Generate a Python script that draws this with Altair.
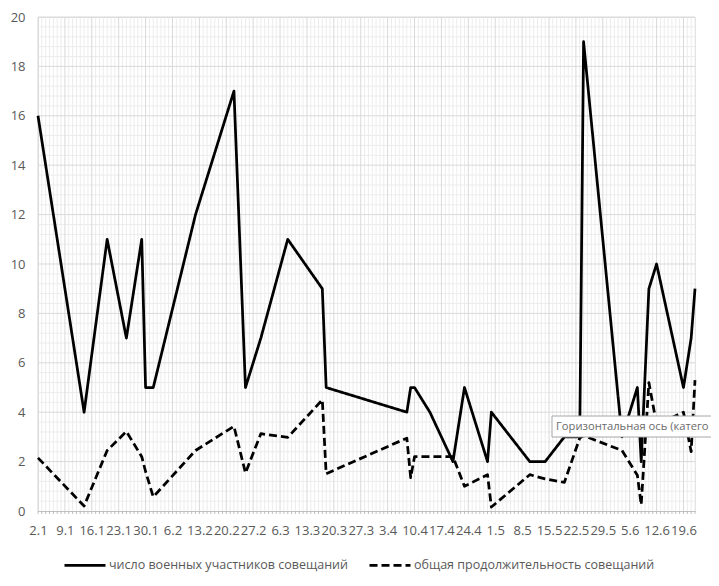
import altair as alt
import pandas as pd

# ---- data (1941, Jan 2 .. Jun 22) ----
dates = ["1941-01-02", "1941-01-14", "1941-01-20", "1941-01-25", "1941-01-29",
         "1941-01-30", "1941-02-01", "1941-02-12", "1941-02-22", "1941-02-25",
         "1941-03-01", "1941-03-08", "1941-03-17", "1941-03-18", "1941-04-08",
         "1941-04-09", "1941-04-10", "1941-04-14", "1941-04-20", "1941-04-23",
         "1941-04-29", "1941-04-30", "1941-05-10", "1941-05-14", "1941-05-19",
         "1941-05-23", "1941-05-24", "1941-06-03", "1941-06-07", "1941-06-08",
         "1941-06-10", "1941-06-12", "1941-06-19", "1941-06-21", "1941-06-22"]
military = [16, 4, 11, 7, 11,
            5, 5, 12, 17, 5,
            7, 11, 9, 5, 4,
            5, 5, 4, 2, 5,
            2, 4, 2, 2, 3,
            3, 19, 3, 5, 2,
            9, 10, 5, 7, 9]
duration = [2.15, 0.2, 2.45, 3.22, 2.2,
            1.6, 0.57, 2.45, 3.43, 1.54,
            3.13, 2.98, 4.5, 1.51, 2.95,
            1.35, 2.2, 2.2, 2.2, 1.0,
            1.47, 0.16, 1.47, 1.3, 1.16,
            2.95, 3.05, 2.45, 1.45, 0.25,
            5.2, 3.5, 4.0, 2.4, 5.3]
series_names = ["число военных участников совещаний",
                "общая продолжительность совещаний"]
tooltip_text = "Горизонтальная ось (катего"

W, H = 657, 494
FONT = "Open Sans"
GREY = "#595959"

long = pd.DataFrame({
    "date": dates * 2,
    "value": military + duration,
    "series": [series_names[0]] * len(dates) + [series_names[1]] * len(dates),
})

all_days = pd.date_range("1941-01-02", "1941-06-22", freq="D")
week_days = all_days[::7]
minor_days = [d.strftime("%Y-%m-%d") for i, d in enumerate(all_days) if i % 7 != 0]
major_days = [d.strftime("%Y-%m-%d") for d in week_days]
week_ms = [int(pd.Timestamp(d).value // 10**6) for d in week_days]
minor_y = [round(i * 0.4, 1) for i in range(51) if i % 5 != 0]
major_y = list(range(2, 21, 2))

x_scale = alt.Scale(type="utc", domain=["1941-01-02", "1941-06-22"], nice=False)
y_scale = alt.Scale(domain=[0, 20], nice=False)


def xenc(field):
    return alt.X(f"{field}:T", scale=x_scale, title=None,
                 axis=alt.Axis(values=week_ms, format="%-d.%-m", grid=False,
                               ticks=False, domain=True, domainColor="#bfbfbf",
                               domainWidth=1, labelFont=FONT, labelFontSize=13,
                               labelColor=GREY, labelPadding=13,
                               labelOverlap=False, labelBound=False,
                               labelFlush=False))


def yenc(field):
    return alt.Y(f"{field}:Q", scale=y_scale, title=None,
                 axis=alt.Axis(values=list(range(0, 21, 2)), grid=False,
                               ticks=False, domain=False, labelFont=FONT,
                               labelFontSize=13, labelColor=GREY,
                               labelPadding=13))


minor_v = alt.Chart(pd.DataFrame({"d": minor_days})).mark_rule(
    color="#ececec", strokeWidth=1).encode(x=xenc("d"))
minor_h = alt.Chart(pd.DataFrame({"v": minor_y})).mark_rule(
    color="#ececec", strokeWidth=1).encode(y=yenc("v"))
major_v = alt.Chart(pd.DataFrame({"d": major_days})).mark_rule(
    color="#d9d9d9", strokeWidth=1).encode(x=xenc("d"))
major_h = alt.Chart(pd.DataFrame({"v": major_y})).mark_rule(
    color="#d9d9d9", strokeWidth=1).encode(y=yenc("v"))
day_ticks = alt.Chart(pd.DataFrame({"d": [d.strftime("%Y-%m-%d") for d in all_days]})).mark_rule(
    color="#bfbfbf", strokeWidth=1).encode(x=xenc("d"), y=alt.value(H), y2=alt.value(H + 3))

lines = alt.Chart(long).mark_line(strokeWidth=2.75, strokeJoin="round", color="black").encode(
    x=xenc("date"),
    y=yenc("value"),
    strokeDash=alt.StrokeDash(
        "series:N",
        scale=alt.Scale(domain=series_names, range=[[1, 0], [8, 4]]),
        legend=alt.Legend(title=None, orient="none", direction="horizontal",
                          legendX=25, legendY=526, padding=0,
                          columnPadding=16, symbolSize=1681,
                          symbolStrokeWidth=2.75, symbolStrokeColor="black",
                          labelFont=FONT, labelFontSize=12.5, labelColor=GREY,
                          labelOffset=2, labelLimit=400),
    ),
    detail="series:N",
)

one = alt.Data(values=[{"k": 1}])
tip_box = alt.Chart(one).mark_rect(fill="#ffffff", stroke="#a6a6a6", strokeWidth=1).encode(
    x=alt.value(514), x2=alt.value(720), y=alt.value(399), y2=alt.value(420))
tip_text = alt.Chart(one).mark_text(
    text=tooltip_text, font=FONT, fontSize=11.2, color="#6b6b6b",
    align="left", baseline="middle").encode(x=alt.value(518), y=alt.value(410))

chart = alt.layer(minor_v, minor_h, major_v, major_h, day_ticks, lines,
                  tip_box, tip_text).properties(
    width=W, height=H,
    autosize=alt.AutoSizeParams(type="none"),
    padding={"left": 30, "top": 9, "right": 16, "bottom": 63},
).configure_view(stroke=None).configure(background="white")

chart.save("out.html", embed_options={"renderer": "svg", "actions": False})
